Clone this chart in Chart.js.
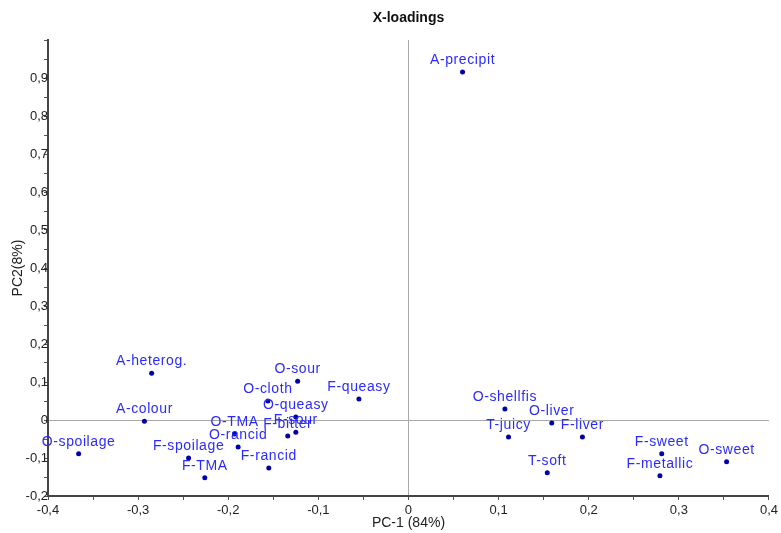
<!DOCTYPE html>
<html>
<head>
<meta charset="utf-8">
<script src="https://cdn.jsdelivr.net/npm/chart.js@4.4.1/dist/chart.umd.min.js"></script>
<style>
	html, body { margin: 0; padding: 0; background: #fff; }
	#wrap { width: 781px; height: 533px; }
</style>
</head>
<body>
<div id="wrap"><canvas id="LoadingsChart"></canvas></div>
<script>
// variable names, PC-1 and PC-2 loadings
var names = ['A-precipit','A-heterog.','A-colour','O-spoilage','F-spoilage','F-TMA','O-TMA','O-rancid','F-rancid','O-cloth','O-sour','O-queasy','F-sour','F-bitter','F-queasy','O-shellfis','O-liver','T-juicy','F-liver','T-soft','F-sweet','F-metallic','O-sweet'];
var pc1 = [0.060,-0.285,-0.293,-0.366,-0.244,-0.226,-0.193,-0.189,-0.155,-0.156,-0.123,-0.125,-0.125,-0.134,-0.055,0.107,0.159,0.111,0.193,0.154,0.281,0.279,0.353];
var pc2 = [0.916,0.123,-0.003,-0.089,-0.100,-0.152,-0.037,-0.071,-0.126,0.050,0.102,0.008,-0.032,-0.042,0.055,0.029,-0.008,-0.045,-0.045,-0.139,-0.089,-0.147,-0.110];
var chartTitle = 'X-loadings';
var xTitle = 'PC-1 (84%)';
var yTitle = 'PC2(8%)';

var points = names.map(function(n, i) { return {x: pc1[i], y: pc2[i], name: n}; });

function fmt(v) {
	var r = Math.round(v * 100);
	if (r % 10 !== 0) return '';
	if (r === 100) return '';
	return (r / 100).toString().replace('.', ',');
}

function zeroLine(ctx) {
	return Math.abs(ctx.tick.value) < 1e-9 ? '#a8a8a8' : 'rgba(0,0,0,0)';
}

var pointLabels = {
	id: 'pointLabels',
	afterDatasetsDraw: function(chart) {
		var c = chart.ctx;
		var meta = chart.getDatasetMeta(0);
		c.save();
		c.font = '14px "Liberation Sans", Arial, sans-serif';
		c.letterSpacing = '0.6px';
		c.fillStyle = '#2b2bff';
		c.textAlign = 'center';
		c.textBaseline = 'middle';
		meta.data.forEach(function(el, i) {
			c.fillText(names[i], el.x, el.y - 12);
		});
		// title over the plot area
		c.letterSpacing = '0px';
		c.font = 'bold 14px "Liberation Sans", Arial, sans-serif';
		c.fillStyle = '#111';
		c.fillText(chartTitle, (chart.chartArea.left + chart.chartArea.right) / 2, 18);
		c.restore();
	}
};

new Chart(document.getElementById('LoadingsChart'), {
	type: 'scatter',
	data: {
		datasets: [{
			data: points,
			pointRadius: 2.5,
			pointBackgroundColor: '#0000a8',
			pointBorderWidth: 0
		}]
	},
	options: {
		responsive: true,
		maintainAspectRatio: false,
		animation: false,
		layout: { padding: { top: 40, right: 12, left: 0, bottom: 0 } },
		plugins: {
			legend: { display: false },
			tooltip: { enabled: false },
			title: { display: false }
		},
		scales: {
			x: {
				min: -0.4, max: 0.4,
				afterFit: function(s) { s.height = 37; },
				border: { color: '#444', width: 2 },
				grid: { color: zeroLine, tickColor: '#555', tickLength: 4 },
				ticks: {
					stepSize: 0.05, maxTicksLimit: 100, autoSkip: false, maxRotation: 0,
					padding: 3, color: '#222',
					font: { family: '"Liberation Sans", Arial, sans-serif', size: 13 },
					callback: function(v) { return fmt(v); }
				},
				title: {
					display: true, text: xTitle, color: '#222',
					font: { family: '"Liberation Sans", Arial, sans-serif', size: 14 },
					padding: { top: 0, bottom: 1 }
				}
			},
			y: {
				min: -0.2, max: 1.0,
				afterFit: function(s) { s.width = 48; },
				border: { color: '#444', width: 2 },
				grid: { color: zeroLine, tickColor: '#555', tickLength: 4 },
				ticks: {
					stepSize: 0.05, maxTicksLimit: 100, autoSkip: false,
					padding: -4, color: '#222',
					font: { family: '"Liberation Sans", Arial, sans-serif', size: 13 },
					callback: function(v) { return fmt(v); }
				},
				title: {
					display: true, text: yTitle, color: '#222',
					font: { family: '"Liberation Sans", Arial, sans-serif', size: 14 },
					padding: { top: 10, bottom: 0 }
				}
			}
		}
	},
	plugins: [pointLabels]
});
</script>
</body>
</html>
